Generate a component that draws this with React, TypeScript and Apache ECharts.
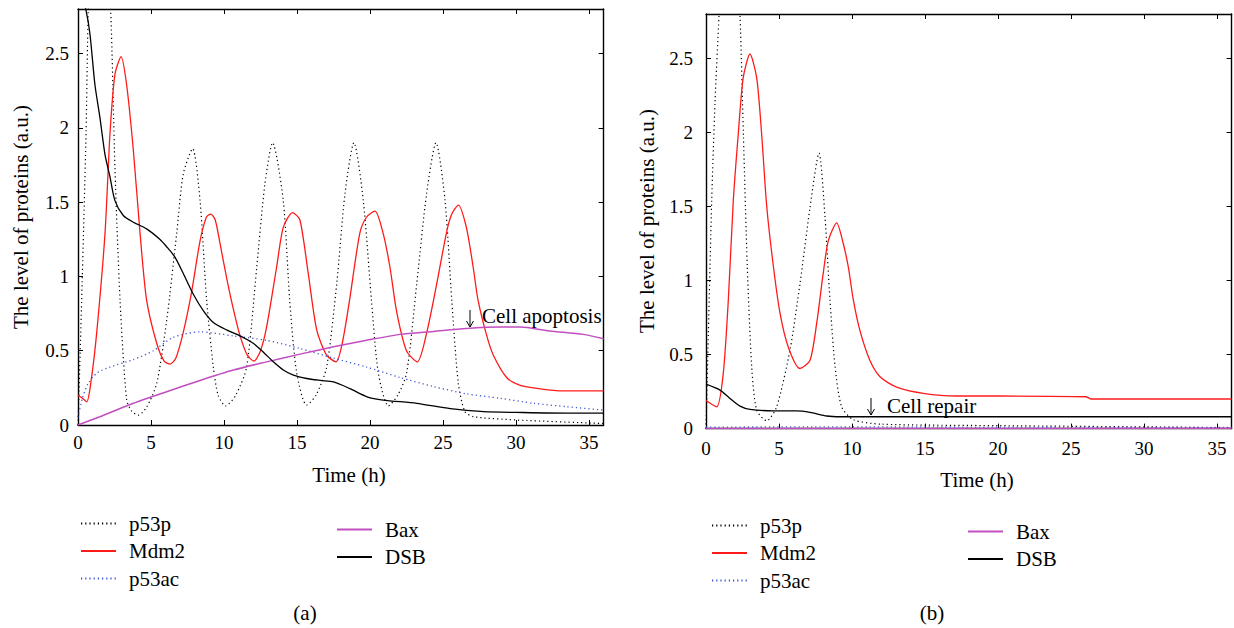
import React, { useEffect, useRef } from "react";
import * as echarts from "echarts";

// ---- data (time in h, level a.u.) ----
const seriesNames = ["p53p", "Mdm2", "p53ac", "Bax", "DSB"];
const xTicks = [0, 5, 10, 15, 20, 25, 30, 35];
const yTicks = [0, 0.5, 1, 1.5, 2, 2.5];

// Panel (a): apoptosis
const p53pA = [[0,0],[0.25,0.84],[0.55,1.96],[0.7,2.79],[0.9,3.3],[1.4,3.8],[1.9,3.3],[2.24,2.79],[2.53,1.73],[2.88,0.84],[3.33,0.17],[3.7,0.09],[4.13,0.067],[4.7,0.12],[5.39,0.28],[6.07,0.7],[6.76,1.29],[7.21,1.69],[7.85,1.86],[8.36,1.51],[8.81,0.84],[9.27,0.39],[9.6,0.2],[10.1,0.128],[10.8,0.2],[11.55,0.39],[12.24,1.06],[12.8,1.62],[13.33,1.9],[14.06,1.51],[14.5,0.84],[14.98,0.35],[15.66,0.134],[16.3,0.2],[17.03,0.39],[17.72,0.95],[18.29,1.56],[18.9,1.9],[19.54,1.51],[20.1,0.84],[20.57,0.35],[21.26,0.128],[21.9,0.2],[22.51,0.35],[23.2,0.95],[23.88,1.56],[24.52,1.9],[25.14,1.51],[25.6,0.84],[26.05,0.28],[26.5,0.09],[27.1,0.056],[30,0.034],[36,0.01]];
const mdm2A = [[0,0.2],[0.3,0.18],[0.6,0.156],[0.9,0.3],[1.28,0.62],[1.85,1.29],[2.19,1.96],[2.53,2.36],[2.95,2.48],[3.33,2.29],[3.79,1.85],[4.25,1.29],[4.7,0.84],[5.39,0.55],[5.9,0.43],[6.3,0.41],[6.7,0.45],[7.2,0.62],[7.79,0.9],[8.36,1.24],[8.8,1.4],[9.1,1.42],[9.4,1.38],[9.73,1.22],[10.2,0.98],[10.64,0.78],[11.1,0.6],[11.6,0.47],[12.05,0.43],[12.5,0.5],[12.92,0.66],[13.6,1.06],[14.06,1.33],[14.7,1.43],[15.2,1.38],[15.77,1.02],[16.35,0.64],[17.03,0.47],[17.67,0.425],[18.1,0.55],[18.6,0.84],[19.3,1.29],[19.77,1.4],[20.34,1.44],[20.9,1.29],[21.37,1.06],[21.83,0.76],[22.5,0.5],[23.24,0.425],[23.88,0.62],[24.57,0.95],[25.25,1.3],[25.6,1.42],[26.05,1.48],[26.6,1.33],[27.07,1.06],[27.4,0.84],[28.0,0.6],[28.45,0.47],[29.36,0.32],[30.2,0.27],[31.2,0.25],[33,0.23],[36,0.23]];
const p53acA = [[0,0.05],[0.3,0.18],[0.7,0.28],[1.3,0.35],[2.19,0.39],[3.79,0.44],[5.16,0.5],[6.53,0.59],[8.36,0.627],[10.6,0.6],[12.9,0.57],[15.2,0.515],[17.5,0.45],[19.77,0.39],[22.05,0.32],[24.3,0.26],[26.6,0.21],[28.9,0.18],[31.2,0.146],[33.5,0.123],[36,0.1]];
const baxA = [[0,0],[1.5,0.056],[3.79,0.146],[6.07,0.224],[8.36,0.3],[10.64,0.37],[12.92,0.425],[15.2,0.477],[17.5,0.526],[19.77,0.57],[22.05,0.61],[24.34,0.63],[26.6,0.65],[28.9,0.66],[30.3,0.66],[32.3,0.633],[34.6,0.61],[36,0.58]];
const dsbA = [[0,3.0],[0.55,2.79],[0.82,2.63],[1.16,2.29],[1.5,2.07],[1.85,1.82],[2.19,1.67],[2.53,1.51],[3.1,1.41],[3.79,1.365],[4.7,1.32],[5.6,1.25],[6.07,1.2],[6.64,1.13],[7.21,1.02],[7.9,0.88],[8.58,0.77],[9.27,0.69],[10.18,0.64],[11.1,0.6],[12.0,0.55],[12.7,0.49],[13.38,0.425],[14.06,0.37],[14.75,0.336],[15.66,0.313],[16.6,0.3],[17.5,0.29],[18.6,0.246],[19.8,0.19],[20.9,0.168],[23.2,0.146],[25.5,0.11],[27.8,0.09],[30,0.085],[33.5,0.08],[36,0.08]];

// Panel (b): repair
const p53pB = [[0,0],[0.16,0.64],[0.39,1.54],[0.62,2.21],[0.89,2.79],[1.2,3.5],[1.6,3.8],[2.0,3.4],[2.33,2.79],[2.56,1.99],[2.83,1.09],[3.13,0.42],[3.47,0.125],[4.16,0.053],[4.84,0.147],[5.75,0.53],[6.44,0.98],[7.12,1.49],[7.74,1.86],[8.15,1.43],[8.49,0.87],[8.84,0.42],[9.29,0.147],[10.1,0.06],[12,0.03],[20,0.02],[32,0.01],[36,0.005]];
const mdm2B = [[0,0.19],[0.73,0.147],[1.18,0.37],[1.53,0.87],[1.87,1.54],[2.21,1.99],[2.55,2.37],[3.01,2.53],[3.47,2.37],[3.81,1.99],[4.16,1.5],[4.61,1.1],[5.07,0.78],[5.64,0.55],[6.44,0.406],[7.12,0.46],[7.58,0.71],[8.03,1.05],[8.38,1.27],[8.95,1.39],[9.4,1.25],[9.75,1.09],[10.09,0.87],[10.55,0.66],[11.23,0.46],[11.92,0.35],[13.06,0.28],[14.88,0.238],[17.17,0.22],[20,0.22],[26,0.215],[26.4,0.2],[36,0.2]];
const p53acB = [[0,0.01],[10,0.012],[20,0.01],[36,0.008]];
const baxB = [[0,0],[36,0.002]];
const dsbB = [[0,0.3],[0.96,0.26],[1.64,0.204],[2.33,0.152],[3.01,0.13],[4.61,0.12],[6.2,0.12],[7.12,0.11],[8.27,0.085],[9.2,0.08],[11.23,0.08],[36,0.08]];

const yName = "The level of proteins (a.u.)";
const xName = "Time (h)";
const panelLabels = ["(a)", "(b)"];
const annotations = ["Cell apoptosis", "Cell repair"];

const FONT = "Liberation Serif, Times New Roman, serif";

export default function App() {
  const ref = useRef<HTMLDivElement>(null);
  useEffect(() => {
    if (!ref.current) return;
    const chart = echarts.init(ref.current, null, { renderer: "svg" });

    const styles: Record<string, any> = {
      p53p: { color: "#000", type: [1.2, 3], width: 1.2 },
      Mdm2: { color: "#ff1a1a", type: "solid", width: 1.3 },
      p53ac: { color: "#3a55d0", type: [1.2, 3], width: 1.3 },
      Bax: { color: "#c24ec2", type: "solid", width: 1.5 },
      DSB: { color: "#000", type: "solid", width: 1.3 },
    };
    const panels = [
      { p53p: p53pA, Mdm2: mdm2A, p53ac: p53acA, Bax: baxA, DSB: dsbA },
      { p53p: p53pB, Mdm2: mdm2B, p53ac: p53acB, Bax: baxB, DSB: dsbB },
    ];

    const grids = [
      { left: 78, top: 9, width: 525.6, height: 416 },
      { left: 706, top: 14, width: 525.6, height: 414.6 },
    ];

    const axisLine = { show: true, onZero: false, lineStyle: { color: "#000", width: 1.4 } };
    const axisTick = { show: true, inside: true, length: 5, lineStyle: { color: "#000", width: 1 } };
    const xAxes: any[] = [];
    const yAxes: any[] = [];
    grids.forEach((_, gi) => {
      ["bottom", "top"].forEach((pos) => {
        xAxes.push({
          gridIndex: gi, type: "value", position: pos, min: 0, max: 36, interval: 5,
          axisLine, axisTick, splitLine: { show: false },
          axisLabel: {
            show: pos === "bottom", showMaxLabel: false, color: "#000",
            fontFamily: FONT, fontSize: 19, margin: gi === 0 ? 8 : 10,
            formatter: (v: number) => (xTicks.includes(v) ? String(v) : ""),
          },
        });
      });
      ["left", "right"].forEach((pos) => {
        yAxes.push({
          gridIndex: gi, type: "value", position: pos, min: 0, max: 2.8, interval: 0.5,
          axisLine, axisTick, splitLine: { show: false },
          axisLabel: {
            show: pos === "left", showMaxLabel: false, color: "#000",
            fontFamily: FONT, fontSize: 19, margin: gi === 0 ? 9 : 13,
            formatter: (v: number) => (yTicks.includes(v) ? String(v) : ""),
          },
        });
      });
    });

    const series: any[] = [];
    panels.forEach((p: any, gi) => {
      seriesNames.forEach((n) => {
        series.push({
          name: n, type: "line", xAxisIndex: gi * 2, yAxisIndex: gi * 2,
          data: p[n], symbol: "none", smooth: 0.25, clip: true,
          lineStyle: { color: styles[n].color, type: styles[n].type, width: styles[n].width },
          itemStyle: { color: styles[n].color },
        });
      });
    });

    const legendBase = {
      orient: "vertical", itemWidth: 35, itemHeight: 14, itemGap: 6.5, selectedMode: false,
      itemStyle: { opacity: 0 },
      textStyle: { fontFamily: FONT, fontSize: 21, color: "#000", padding: [0, 0, 0, 8] },
    };
    const legend = [
      { ...legendBase, data: ["p53p", "Mdm2", "p53ac"], left: 75, top: 508 },
      { ...legendBase, data: ["Bax", "DSB"], left: 331, top: 514 },
      { ...legendBase, data: ["p53p", "Mdm2", "p53ac"], left: 706, top: 510 },
      { ...legendBase, data: ["Bax", "DSB"], left: 962, top: 516 },
    ];

    const txt = (text: string, x: number, y: number, align = "center") => ({
      type: "text", x, y,
      style: { text, fill: "#000", fontFamily: FONT, fontSize: 21, align, verticalAlign: "middle" },
    });
    const arrow = (x: number, y0: number, y1: number) => ({
      type: "group",
      children: [
        { type: "line", shape: { x1: x, y1: y0, x2: x, y2: y1 }, style: { stroke: "#000", lineWidth: 1 } },
        { type: "polyline", shape: { points: [[x - 3.5, y1 - 6], [x, y1], [x + 3.5, y1 - 6]] }, style: { stroke: "#000", lineWidth: 1, fill: null } },
      ],
    });

    const graphic = [
      { ...txt(yName, 21, 217), rotation: Math.PI / 2 },
      { ...txt(yName, 647, 221), rotation: Math.PI / 2 },
      txt(xName, 349, 475),
      txt(xName, 977, 480),
      txt(panelLabels[0], 305, 613),
      txt(panelLabels[1], 932, 613),
      arrow(470, 310, 327),
      txt(annotations[0], 482, 316, "left"),
      arrow(871, 398, 415),
      txt(annotations[1], 887, 406, "left"),
    ];

    chart.setOption({
      animation: false,
      backgroundColor: "#fff",
      textStyle: { fontFamily: FONT, color: "#000" },
      grid: grids,
      xAxis: xAxes,
      yAxis: yAxes,
      legend,
      series,
      graphic,
    });
    return () => chart.dispose();
  }, []);
  return <div ref={ref} style={{ position: "fixed", left: 0, top: 0, width: 1234, height: 628, fontFamily: FONT }} />;
}
